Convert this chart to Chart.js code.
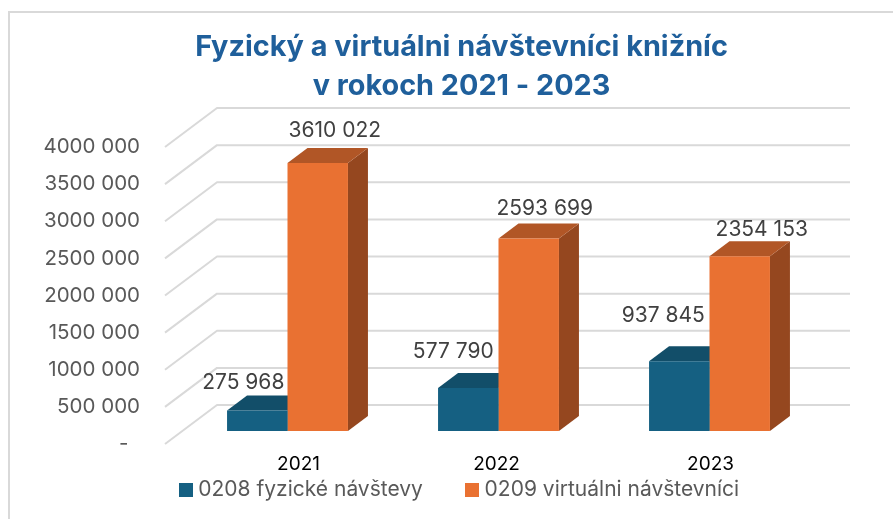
<!DOCTYPE html>
<html><head><meta charset="utf-8">
<style>html,body{margin:0;padding:0;background:#fff;overflow:hidden}#w{width:893px;height:519px;position:relative}</style>
<script src="https://cdn.jsdelivr.net/npm/chart.js@4"></script>
</head><body><div id="w"><canvas id="c" width="893" height="519"></canvas></div>
<script>
const categories = ['2021', '2022', '2023'];
const physicalLabel = '0208 fyzické návštevy';
const virtualLabel = '0209 virtuálni návštevníci';
const physicalVisits = [275968, 577790, 937845];
const virtualVisits = [3610022, 2593699, 2354153];
const titleLines = ['Fyzický a virtuálni návštevníci knižníc', 'v rokoch 2021 - 2023'];

const FONT = 'Inter, "Noto Sans", sans-serif';
const BLUE = '#156082', ORANGE = '#E97132';
const faces = [{top:'#124E69', side:'#0F4A63'}, {top:'#B15626', side:'#95471F'}];
// per-point label displacement from the bar's front-top centre
const labelShift = [
  [[-14,-28],[-15,-36],[-16,-46]],
  [[17,-32],[16,-30],[22,-27]]
];
const catLabelShift = [11, -2, 1];

function fmt(v){
  const s = String(Math.round(v));
  return s.length > 3 ? s.slice(0,-3) + ' ' + s.slice(-3) : s;
}
function swatch(color){
  const c = document.createElement('canvas'); c.width = c.height = 14;
  const g = c.getContext('2d'); g.fillStyle = color; g.fillRect(0,0,14,14);
  return c;
}
const depth = {
  floorX:17, floorY:13, // bar plane -> front edge of floor
  wallX:35, wallY:26,   // bar plane -> back wall
  barX:20, barY:15      // bar depth
};
const scene = {
  id:'scene',
  beforeDraw(chart){
    const {ctx} = chart;
    ctx.save();
    ctx.strokeStyle = '#D9D9D9'; ctx.lineWidth = 2;
    ctx.beginPath(); ctx.moveTo(9,519); ctx.lineTo(9,12); ctx.lineTo(893,12); ctx.stroke();
    ctx.restore();
    const items = chart.scales.x.getLabelItems();
    if(!items._moved){ items.forEach((it,i)=>{ it.options.translation[0] += catLabelShift[i]; }); items._moved = true; }
  },
  beforeDatasetsDraw(chart){
    const {ctx, chartArea:a, scales:{y}} = chart;
    ctx.save();
    ctx.strokeStyle = '#D9D9D9'; ctx.lineWidth = 2; ctx.lineJoin='round';
    y.ticks.forEach(t=>{
      const p = y.getPixelForValue(t.value);
      ctx.beginPath();
      ctx.moveTo(a.left-depth.floorX, p+depth.floorY);
      ctx.lineTo(a.left+depth.wallX, p-depth.wallY);
      ctx.lineTo(a.right+depth.wallX, p-depth.wallY);
      ctx.stroke();
    });
    chart.data.datasets.forEach((ds,di)=>{
      chart.getDatasetMeta(di).data.forEach(b=>{
        const l=b.x-b.width/2, r=b.x+b.width/2, t=b.y, bt=b.base, dx=depth.barX, dy=depth.barY;
        ctx.fillStyle = faces[di].side;
        ctx.beginPath(); ctx.moveTo(r,t); ctx.lineTo(r+dx,t-dy); ctx.lineTo(r+dx,bt-dy); ctx.lineTo(r,bt); ctx.closePath(); ctx.fill();
        ctx.fillStyle = faces[di].top;
        ctx.beginPath(); ctx.moveTo(l,t); ctx.lineTo(l+dx,t-dy); ctx.lineTo(r+dx,t-dy); ctx.lineTo(r,t); ctx.closePath(); ctx.fill();
      });
    });
    ctx.restore();
  },
  afterDatasetsDraw(chart){
    const {ctx} = chart;
    ctx.save();
    ctx.font = '21px '+FONT; ctx.fillStyle='#404040'; ctx.textAlign='center'; ctx.textBaseline='middle';
    chart.data.datasets.forEach((ds,di)=>{
      chart.getDatasetMeta(di).data.forEach((b,i)=>{
        const s = labelShift[di][i];
        ctx.fillText(fmt(ds.data[i]), b.x+s[0], b.y+s[1]);
      });
    });
    ctx.restore();
  }
};
new Chart(document.getElementById('c'), {
  type:'bar',
  data:{ labels:categories, datasets:[
    {label:physicalLabel, data:physicalVisits, backgroundColor:BLUE, pointStyle:swatch(BLUE), categoryPercentage:0.573, barPercentage:1, yAxisID:'y'},
    {label:virtualLabel, data:virtualVisits, backgroundColor:ORANGE, pointStyle:swatch(ORANGE), categoryPercentage:0.573, barPercentage:1, yAxisID:'y'}
  ]},
  plugins:[scene],
  options:{
    responsive:false, animation:false,
    layout:{padding:{left:30,right:0,top:0,bottom:9}},
    plugins:{
      tooltip:{enabled:false},
      title:{display:true, text:titleLines, color:'#1F5F9B', font:{family:FONT,size:28.8,weight:'700',lineHeight:39/28.8}, padding:{top:28,bottom:28}},
      legend:{position:'bottom', labels:{
        font:{family:FONT,size:21}, color:'#595959', padding:0,
        usePointStyle:true, boxHeight:14, pointStyleWidth:4,
        generateLabels(chart){
          return Chart.defaults.plugins.legend.labels.generateLabels(chart).map((it,i)=>{
            if(i===0) it.text = it.text + '        ';
            return it;
          });
        }
      }}
    },
    scales:{
      x:{
        grid:{display:false}, border:{display:false},
        ticks:{color:'#000',font:{family:FONT,size:19},padding:14,maxRotation:0},
        afterFit(s){ s.height = 48; }
      },
      y:{
        min:0,max:4000000,
        grid:{display:false}, border:{display:false},
        ticks:{stepSize:500000,color:'#595959',font:{family:FONT,size:20.5},padding:34,labelOffset:13,
          callback(v){ return v===0 ? '-  ' : fmt(v); }},
        afterFit(s){ s.width = 152; }
      },
      y2:{
        position:'right', display:true,
        grid:{display:false}, border:{display:false},
        ticks:{display:false},
        afterFit(s){ s.width = 78; }
      }
    }
  }
});
</script></body></html>
